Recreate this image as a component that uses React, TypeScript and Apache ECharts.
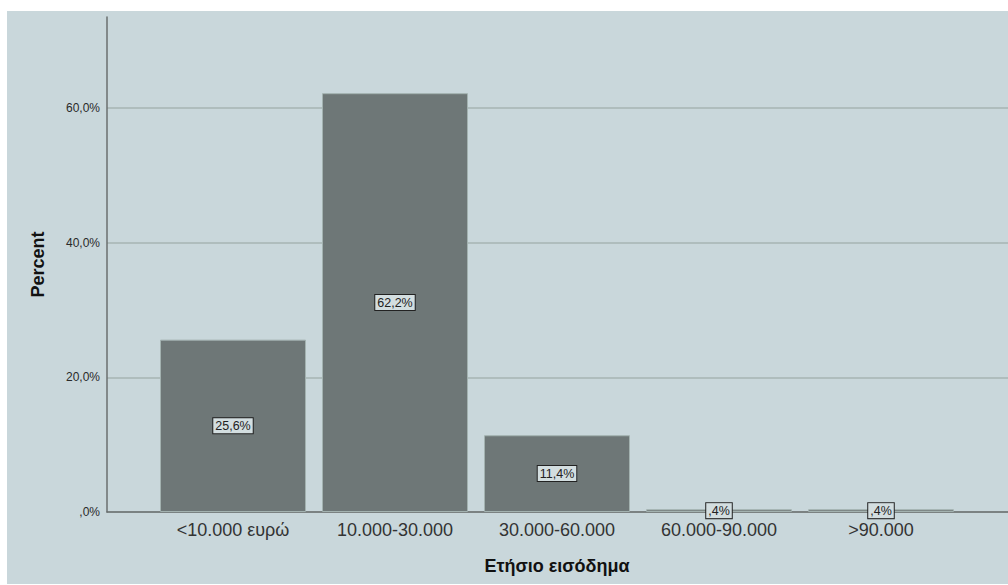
import React, { useEffect, useRef } from "react";
import * as echarts from "echarts";

const categories = ["<10.000 ευρώ", "10.000-30.000", "30.000-60.000", "60.000-90.000", ">90.000"];
const percents = [25.6, 62.2, 11.4, 0.4, 0.4];
const xTitle = "Ετήσιο εισόδημα";
const yTitle = "Percent";

const fmtPct = (v: number) => {
  const s = v.toFixed(1).replace(".", ",");
  return (s.startsWith("0,") ? s.slice(1) : s) + "%";
};

const FONT = "Liberation Sans, Arial, sans-serif";

export default function App() {
  const ref = useRef<HTMLDivElement>(null);
  useEffect(() => {
    if (!ref.current) return;
    const chart = echarts.init(ref.current, undefined, { renderer: "svg" });
    const pxPerPct = (512 - 108) / 60;
    const maxY = (512 - 17) / pxPerPct;
    chart.setOption({
      animation: false,
      backgroundColor: "#ffffff",
      graphic: [
        { type: "rect", z: -10, shape: { x: 7, y: 11, width: 1001, height: 573 }, style: { fill: "#c9d7db" }, silent: true },
      ],
      grid: [
        { left: 107, right: 0, top: 17, bottom: 73 },
        { left: 152, right: 46, top: 17, bottom: 73 },
      ],
      xAxis: [
        {
          gridIndex: 0, type: "value", min: 0, max: 1,
          axisLine: { show: true, lineStyle: { color: "#6a6f6f", width: 1.5 } },
          axisTick: { show: false }, axisLabel: { show: false }, splitLine: { show: false },
        },
        {
          gridIndex: 1, type: "category", data: categories,
          axisLine: { show: false }, axisTick: { show: false },
          axisLabel: { color: "#333", fontSize: 18, fontFamily: FONT, margin: 9 },
          name: xTitle, nameLocation: "middle", nameGap: 45,
          nameTextStyle: { color: "#111", fontSize: 18, fontWeight: "bold", fontFamily: FONT },
        },
      ],
      yAxis: [
        {
          gridIndex: 0, type: "value", min: 0, max: maxY, interval: 20,
          axisLine: { show: true, lineStyle: { color: "#6a6f6f", width: 1.5 } },
          axisTick: { show: false },
          axisLabel: { formatter: (v: number) => fmtPct(v), color: "#2a2a2a", fontSize: 12, fontFamily: FONT, margin: 7, showMaxLabel: false },
          splitLine: { show: true, showMaxLine: false, lineStyle: { color: "#a6b5b3", width: 1.5 } },
          name: yTitle, nameLocation: "middle", nameGap: 60, nameRotate: 90,
          nameTextStyle: { color: "#111", fontSize: 18, fontWeight: "bold", fontFamily: FONT },
        },
        {
          gridIndex: 1, type: "value", min: 0, max: maxY, show: false,
        },
      ],
      series: [
        {
          type: "bar", xAxisIndex: 1, yAxisIndex: 1, data: percents, barWidth: 146,
          itemStyle: { color: "#6e7777", borderColor: "#a3b2b0", borderWidth: 1 },
          label: {
            show: true, position: "inside", formatter: (p: any) => fmtPct(p.value),
            color: "#222", fontSize: 12.5, lineHeight: 13, fontFamily: FONT,
            backgroundColor: "#d3dee0", borderColor: "#222", borderWidth: 1, padding: [1, 2, 1, 2],
          },
        },
      ],
    });
    return () => chart.dispose();
  }, []);
  return <div ref={ref} style={{ position: "absolute", left: 0, top: 0, width: 1008, height: 585 }} />;
}
